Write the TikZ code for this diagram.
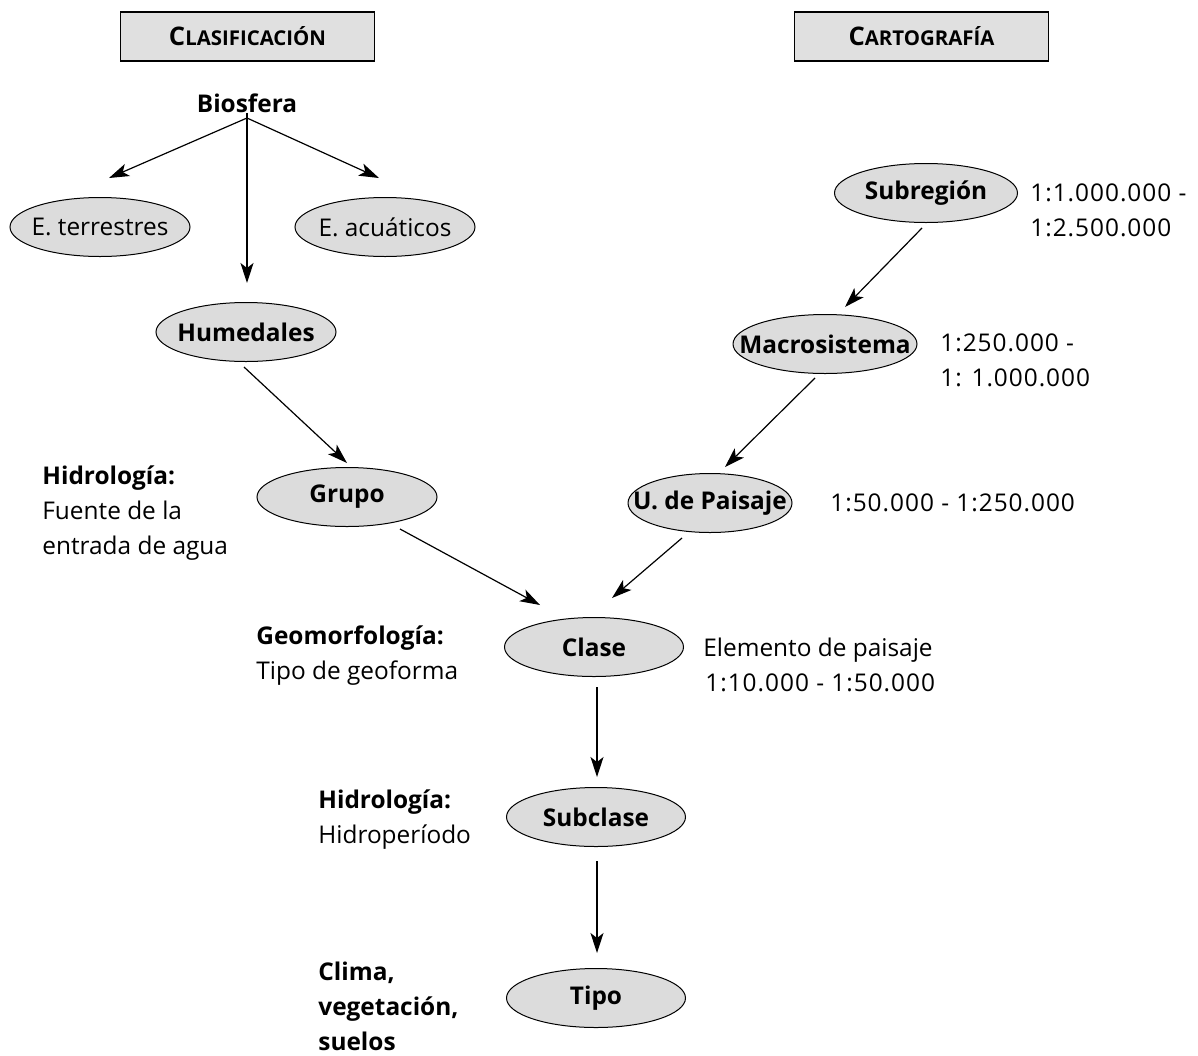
\documentclass[tikz,border=0pt]{standalone}
\usepackage{fontspec}
\setmainfont{Open Sans}
\usetikzlibrary{shapes.geometric,arrows.meta}
\definecolor{ellgray}{RGB}{220,220,220}
\definecolor{boxgray}{RGB}{224,224,224}
\newcommand{\numtxt}[1]{{\addfontfeature{LetterSpace=4}#1}}
\begin{document}
\begin{tikzpicture}[x=0.5pt,y=-0.5pt,
  font=\fontsize{12.2}{17.5}\selectfont,
  ell/.style={ellipse,draw,line width=0.5pt,fill=ellgray,inner sep=0pt,
              minimum width=#1,minimum height=29.5pt},
  hdr/.style={draw,line width=0.7pt,fill=boxgray,inner sep=0pt,
              minimum width=127pt,minimum height=24.5pt},
  lbl/.style={anchor=west,align=left,inner sep=0pt},
  arr/.style={-{Stealth[length=10pt,width=6.5pt,inset=2.5pt]},line width=0.6pt}]
\useasboundingbox (0,0) rectangle (1198,1055);

% headers
\node[hdr] (hL) at (247.5,36.5) {\bfseries\fontsize{12.8}{13}\selectfont C\fontsize{10.2}{13}\selectfont LASIFICACIÓN};
\node[hdr] (hR) at (921.5,36.5) {\bfseries\fontsize{12.8}{13}\selectfont C\fontsize{10.2}{13}\selectfont ARTOGRAFÍA};

% classification side
\node[inner sep=0pt,font=\fontsize{12.2}{17.5}\selectfont\bfseries] (bio) at (247,103) {Biosfera};
\coordinate (bfork) at (247,118);
\node[ell=90pt] (ter) at (100,227) {\makebox[0pt]{E. terrestres}};
\node[ell=90pt] (acu) at (385,227) {\makebox[0pt]{E. acuáticos}};
\node[ell=90pt] (hum) at (246,332) {\makebox[0pt]{\bfseries Humedales}};
\node[ell=90pt] (grp) at (347,497) {\makebox[0pt]{\bfseries Grupo}};
\node[ell=89.5pt] (cls) at (594,647) {\makebox[0pt]{\bfseries Clase}};
\node[ell=89.5pt] (sub) at (596,817) {\makebox[0pt]{\bfseries Subclase}};
\node[ell=89.5pt] (tipo) at (596,998) {\makebox[0pt]{\bfseries Tipo}};

% cartography side
\node[ell=91.5pt] (subr) at (926,193) {\makebox[0pt]{\bfseries Subregión}};
\node[ell=92pt] (macro) at (825,344) {\makebox[0pt]{\bfseries Macrosistema}};
\node[ell=82pt] (upai) at (710,503) {\makebox[0pt]{\bfseries U. de Paisaje}};

% side labels
\node[lbl] (lhid) at (42,513) {\textbf{Hidrología:}\\Fuente de la\\entrada de agua};
\node[lbl] (lgeo) at (256,656) {\textbf{Geomorfología:}\\Tipo de geoforma};
\node[lbl] (lhid2) at (318,819.5) {\textbf{Hidrología:}\\Hidroperíodo};
\node[lbl] (lcli) at (318,1006.5) {\textbf{Clima,}\\\textbf{vegetación,}\\\textbf{suelos}};
\node[lbl] (lele) at (703,665) {Elemento de paisaje\\\hspace*{1pt}\numtxt{1:10.000 - 1:50.000}};
\node[lbl] (lsubr) at (1030,210.5) {\numtxt{1:1.000.000 -}\\\numtxt{1:2.500.000}};
\node[lbl] (lmac) at (940,360.5) {\numtxt{1:250.000 -}\\\numtxt{1: 1.000.000}};
\node[lbl] (lupa) at (830,503) {\numtxt{1:50.000 - 1:250.000}};

% connectors
\draw[line width=0.6pt] (bio.south) -- (bfork);
\draw[arr] (bfork) -- ([shift={(9,-49)}]ter.center);
\draw[arr] (bfork) -- ([shift={(-6,-49)}]acu.center);
\draw[arr] (bfork) -- ([shift={(1,-49)}]hum.center);
\draw[arr] ([shift={(-2,35)}]hum.center) -- ([shift={(0,-34)}]grp.center);
\draw[arr] ([shift={(53,32)}]grp.center) -- ([shift={(-54,-42)}]cls.center);
\draw[arr] ([shift={(-28,35)}]upai.center) -- ([shift={(18,-49)}]cls.center);
\draw[arr] ([shift={(-4,35)}]subr.center) -- ([shift={(20,-37)}]macro.center);
\draw[arr] ([shift={(-10,34)}]macro.center) -- ([shift={(15,-36)}]upai.center);
\draw[arr] ([shift={(3,40)}]cls.center) -- ([shift={(1,-40)}]sub.center);
\draw[arr] ([shift={(1,44)}]sub.center) -- ([shift={(1,-45)}]tipo.center);
\end{tikzpicture}
\end{document}
